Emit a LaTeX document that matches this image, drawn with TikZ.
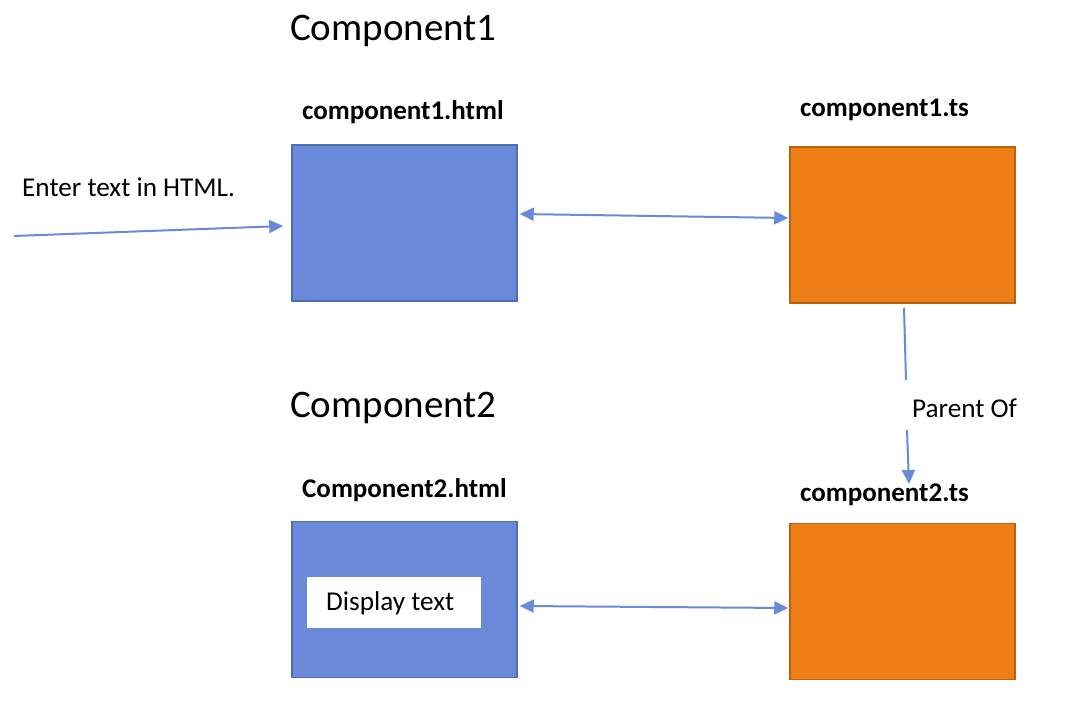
\documentclass[tikz,border=0pt]{standalone}
\usepackage{fontspec}
\setmainfont{Carlito}
\usetikzlibrary{arrows.meta}
\definecolor{bfill}{RGB}{106,137,216}
\definecolor{bdraw}{RGB}{80,108,176}
\definecolor{ofill}{RGB}{238,127,22}
\definecolor{odraw}{RGB}{185,96,18}
\definecolor{arr}{RGB}{106,137,216}
\tikzset{
  bluebox/.style={draw=bdraw, fill=bfill, line width=1.5pt, minimum width=225pt, minimum height=156pt, inner sep=0pt},
  orangebox/.style={draw=odraw, fill=ofill, line width=1.5pt, minimum width=225pt, minimum height=156pt, inner sep=0pt},
  title/.style={anchor=west, inner sep=0pt, font=\fontsize{39}{45}\selectfont},
  lbl/.style={anchor=west, inner sep=0pt, font=\bfseries\fontsize{27}{31}\selectfont},
  txt/.style={anchor=west, inner sep=0pt, font=\fontsize{27.2}{31}\selectfont},
  conn/.style={draw=arr, line width=2pt},
  tip/.style={-{Triangle[length=14pt,width=13pt]}},
  tips/.style={{Triangle[length=14pt,width=13pt]}-{Triangle[length=14pt,width=13pt]}}
}
\begin{document}
\begin{tikzpicture}[x=1pt,y=-1pt]
\useasboundingbox (0,0) rectangle (1069,703);
\node[title] (t1) at (290,31) {Component1};
\node[title] (t2) at (290,408) {Component2};
\node[bluebox] (html1) at (404.5,223) {};
\node[orangebox] (ts1) at (902.5,225) {};
\node[bluebox] (html2) at (404.5,599.5) {};
\node[orangebox] (ts2) at (902.5,601.5) {};
\node[fill=white, minimum width=174pt, minimum height=51pt, inner sep=0pt] (disp) at (394,602.5) {};
\node[txt] (dispt) at (326,603) {Display text};
\node[lbl] (l1) at (302,112) {component1.html};
\node[lbl] (l2) at (800,110) {component1.ts};
\node[lbl] (l3) at (302,490) {Component2.html};
\node[lbl] (l4) at (800,495) {component2.ts};
\node[txt] (enter) at (22,187) {Enter text in HTML.};
\node[txt] (parent) at (912,408) {Parent Of};
\coordinate (start) at (14,236);
\coordinate (m1) at (906,380);
\coordinate (m2) at (907,430);
\coordinate (e1) at (909,484);
\draw[conn,tip] (start) -- ([xshift=-8pt,yshift=-3pt]html1.west);
\draw[conn,tips] ([xshift=2pt,yshift=9pt]html1.east) -- ([xshift=-1pt,yshift=7pt]ts1.west);
\draw[conn,tips] ([xshift=2pt,yshift=-6.5pt]html2.east) -- ([xshift=-1pt,yshift=-6.5pt]ts2.west);
\draw[conn] ([xshift=1.5pt,yshift=-4pt]ts1.south) -- (m1);
\draw[conn,tip] (m2) -- (e1);
\end{tikzpicture}
\end{document}
